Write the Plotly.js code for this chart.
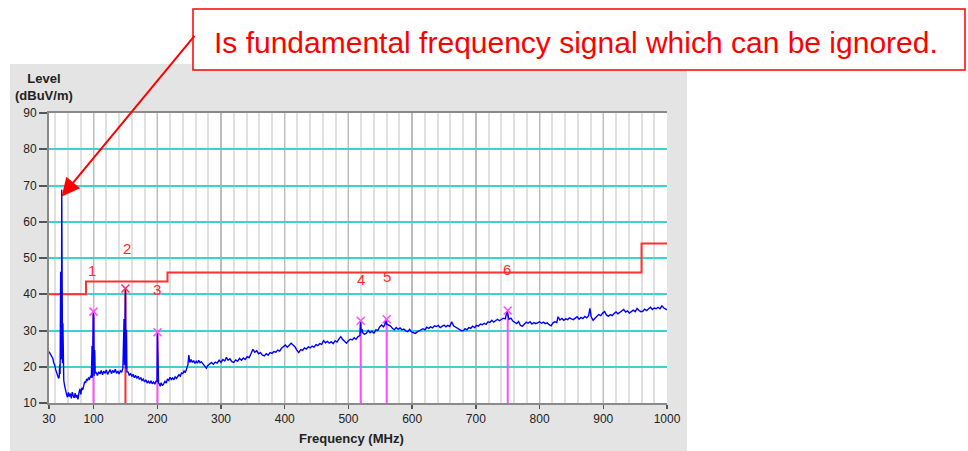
<!DOCTYPE html>
<html><head><meta charset="utf-8">
<script src="https://cdn.plot.ly/plotly-3.0.1.min.js"></script>
<style>html,body{margin:0;padding:0;background:#fff;}#chart{width:968px;height:451px;}</style>
</head><body><div id="chart"></div>
<script>
const spectrumFreq = [
 30,31.5,33,34.5,36,37.5,39,40.5,42,43.5,
 45,46,46.8,47.4,48.3,48.9,49.3,49.6,50,50.6,
 51.2,51.8,52.4,53.2,54.5,56,57.5,59,60.5,62,
 63.5,65,66.5,68,69.5,71,72.5,74,75.5,77,
 78.5,80,81.5,83,84.5,86,87.5,89,90.5,92,
 93.5,95,96.5,97.6,98.3,99.5,100.2,100.9,101.8,102.5,
 104,106,108,110,112,114,116,118,120,122,
 124,126,128,130,132,134,136,138,140,142,
 144,146,147.8,148.6,150,150.8,151.6,152.3,154,156,
 158,160,162,164,166,168,170,172,174,176,
 178,180,182,184,186,188,190,192,194,196,
 198,199.6,200.2,200.8,201.3,201.9,203,204.5,206,208,
 210,212,214,216,218,220,222,224,226,228,
 230,232,234,236,238,240,242,244,246,248,
 249.5,251,253,255,257,259,261,263,265,267,
 269,272,275,277,279,282,285,288,291,294,
 297,300,303,306,308.5,311,314,317,320,323,
 326,329,332,335,338,341,344,347,350,353,
 356,359,362,365,368,371,374,377,380,383,
 386,389,392,395,398,401,404,407,410,413,
 416,419,422,425,428,431,434,437,440,443,
 446,449,452,455,458,461,464,467,470,473,
 476,479,482,485,488,491,494,497,500,503,
 506,509,512,515,518,519,520,521,523,525,
 528,531,534,537,540,543,546,549,552,555,
 557,558.5,560,563,566,569,572,575,578,581,
 584,587,590,593,596,599,602,605,608,611,
 614,617,620,623,626,629,632,635,638,641,
 644,647,650,653,656,659,662,665,668,671,
 674,677,680,683,686,689,692,695,698,701,
 704,707,710,713,716,719,722,725,728,731,
 734,737,740,743,746,749,752,755,758,761,
 764,767,770,773,776,779,782,785,788,791,
 794,797,800,803,806,809,812,815,818,821,
 824,827,829,832,835,838,841,844,847,850,
 853,856,859,862,865,868,871,874,877,879,
 881,884,887,890,893,896,899,902,905,908,
 911,914,917,920,923,926,929,932,935,938,
 941,944,947,950,953,956,959,962,965,968,
 971,974,977,980,983,986,989,992,995,998,1000
];
const spectrumLevel = [
 24.2,23.8,23.4,22.8,22.3,21.0,20.5,19.2,18.4,17.2,
 16.8,17.2,20.6,18.0,46.2,24.0,31.0,22.0,68.8,25.0,
 21.0,32.0,20.0,16.2,14.8,13.2,12.4,11.6,12.9,11.8,
 12.6,11.3,13.0,12.0,11.4,12.7,11.5,12.2,11.0,12.8,
 13.9,12.4,14.2,13.6,14.8,15.9,15.6,16.6,16.3,16.9,
 16.6,17.3,17.0,25.8,17.0,35.2,33.5,17.5,24.6,18.2,
 18.4,17.6,18.6,18.0,19.0,17.8,18.8,18.2,19.1,17.9,
 18.7,19.2,18.1,19.0,18.4,19.3,18.2,18.8,18.0,18.9,
 18.5,19.6,33.2,20.5,41.6,19.5,30.2,18.6,18.6,17.6,
 18.2,17.3,17.9,17.0,17.6,16.8,17.4,16.5,17.0,16.2,
 16.6,15.8,16.4,15.6,16.0,15.4,16.1,15.3,15.8,15.2,
 16.0,16.0,29.4,16.2,22.5,15.5,15.3,14.6,15.6,14.8,
 15.3,16.0,15.5,16.6,16.2,17.1,16.5,16.9,16.4,17.2,
 16.8,17.4,17.8,17.4,18.3,18.1,18.8,18.4,19.4,20.5,
 23.2,21.2,22.0,21.2,21.7,20.9,21.5,21.0,21.8,21.1,
 21.4,20.8,20.2,19.6,20.3,20.8,21.2,20.7,21.3,21.0,
 21.8,21.2,22.0,21.6,22.6,21.8,22.2,21.4,21.2,21.9,
 21.5,22.3,21.8,22.4,22.0,22.8,22.5,23.6,24.8,24.0,
 24.4,23.6,23.9,23.2,23.0,23.6,23.2,23.9,23.7,24.2,
 24.0,24.6,24.3,25.1,25.6,26.0,25.4,26.1,26.5,26.0,
 25.5,24.6,23.9,24.7,24.5,25.2,24.9,25.5,25.2,25.7,
 25.4,26.1,25.8,26.4,26.2,27.2,26.6,27.0,26.5,26.9,
 26.4,27.2,26.8,27.6,28.3,27.5,26.9,26.5,27.2,27.6,
 27.4,28.0,27.6,28.3,28.6,32.3,29.5,30.4,29.2,29.0,
 29.2,30.0,29.4,29.8,29.3,30.2,30.0,31.0,31.5,31.0,
 31.6,32.9,31.8,31.5,31.2,30.6,30.2,30.8,30.3,30.7,
 30.2,30.4,29.9,29.7,30.3,29.6,29.4,29.2,29.6,29.9,
 30.3,30.5,30.2,30.9,30.6,31.0,30.7,31.3,31.1,31.4,
 30.8,31.2,31.5,31.0,31.4,31.1,32.4,31.3,31.0,30.6,
 30.2,30.0,29.9,30.5,30.2,30.8,30.6,31.2,30.8,31.4,
 31.2,31.8,31.6,32.0,31.7,32.4,32.2,32.8,32.3,32.6,
 33.1,32.7,33.0,33.4,33.2,35.2,33.1,33.4,32.6,32.2,
 31.9,32.5,31.4,31.2,31.8,32.3,32.0,32.4,31.8,32.2,
 31.9,32.1,32.4,32.0,32.3,31.9,32.1,31.6,31.3,32.1,
 32.4,32.2,33.8,32.9,33.3,32.8,33.2,33.0,33.5,33.2,
 33.0,33.4,33.8,33.1,33.6,33.3,33.9,33.5,34.1,36.1,
 33.8,32.8,33.5,33.9,34.4,34.1,34.8,35.2,34.3,33.9,
 34.4,34.1,34.7,35.1,34.6,35.0,35.4,35.8,35.1,35.4,
 34.8,35.3,35.6,35.2,36.1,35.5,35.2,35.3,35.9,35.5,
 36.0,36.4,35.8,36.2,36.0,36.4,36.0,36.8,36.2,35.8,35.7
];
// Limit line (step)
const limitFreq = [30, 88, 216, 960, 1000];
const limitLevel = [40, 43.5, 46, 54, 54];
// Peak markers
const markerFreq = [99.8, 150, 200.3, 519.2, 560, 750];
const markerLevel = [35.2, 41.6, 29.5, 32.7, 33.1, 35.5];
const markerNames = ['1', '2', '3', '4', '5', '6'];
const markerLabelFreq = [98.2, 152.1, 199.7, 519.2, 560.6, 749.6];
const markerLabelLevel = [46.6, 52.7, 41.4, 44.0, 44.8, 46.8];
// Axis ticks
const xTickVals = [30, 100, 200, 300, 400, 500, 600, 700, 800, 900, 1000];
const yTickVals = [10, 20, 30, 40, 50, 60, 70, 80, 90];
const calloutText = 'Is fundamental frequency signal which can be ignored.';
const fundamentalFreq = 50;
const fundamentalArrowLevel = 67;

const W = 968, H = 451, ML = 49, MR = 301, MT = 113, MB = 48;
const pw = W - ML - MR, ph = H - MT - MB;
const px = v => (v - ML) / pw;
const py = v => (H - MB - v) / ph;

const pink = '#ff4dff';
const redMark = '#ff2a2a';

// vertical marker lines
const pinkX = [], pinkY = [], redX = [], redY = [];
markerFreq.forEach((f, i) => {
  const tx = (i === 1) ? redX : pinkX;
  const ty = (i === 1) ? redY : pinkY;
  tx.push(f, f, null); ty.push(10, markerLevel[i], null);
});

const traces = [
  {x: pinkX, y: pinkY, mode: 'lines', line: {color: pink, width: 2}, hoverinfo: 'skip'},
  {x: redX, y: redY, mode: 'lines', line: {color: redMark, width: 2}, hoverinfo: 'skip'},
  {x: limitFreq, y: limitLevel, mode: 'lines', line: {color: '#ff3030', width: 2, shape: 'hv'}},
  {x: spectrumFreq, y: spectrumLevel, mode: 'lines', line: {color: '#0000ff', width: 1.4}},
  {x: markerFreq, y: markerLevel, mode: 'markers',
   marker: {symbol: 'x-thin', size: 8,
            line: {width: 1.5, color: markerFreq.map((f, i) => i === 1 ? '#f0306a' : pink)}}}
];

const annotations = markerNames.map((n, i) => ({
  x: markerLabelFreq[i], y: markerLabelLevel[i], xref: 'x', yref: 'y', text: n,
  showarrow: false, font: {family: 'Liberation Sans, Arial', size: 15, color: redMark}
}));
annotations.push({
  xref: 'paper', yref: 'paper', x: px(44), y: py(87), xanchor: 'center', yanchor: 'middle',
  text: '<b>Level</b><br><b>(dBuV/m)</b>', showarrow: false,
  font: {family: 'Liberation Sans, Arial', size: 13, color: '#222'}
});
annotations.push({
  xref: 'paper', yref: 'paper', x: px(351), y: py(438), xanchor: 'center', yanchor: 'middle',
  text: '<b>Frequency (MHz)</b>', showarrow: false,
  font: {family: 'Liberation Sans, Arial', size: 13, color: '#222'}
});
annotations.push({
  xref: 'paper', yref: 'paper', x: px(575.5), y: py(42), xanchor: 'center', yanchor: 'middle',
  text: calloutText, showarrow: false,
  font: {family: 'Liberation Sans, Arial', size: 30, color: '#ff0000'}
});
annotations.push({
  xref: 'x', yref: 'y', x: fundamentalFreq, y: fundamentalArrowLevel, text: '',
  showarrow: true, arrowhead: 2, arrowsize: 1.8, arrowwidth: 2, arrowcolor: '#ff0000',
  ax: 134, ay: -162
});

const layout = {
  width: W, height: H, margin: {l: ML, r: MR, t: MT, b: MB, pad: 0},
  paper_bgcolor: '#ffffff', plot_bgcolor: 'rgba(0,0,0,0)', showlegend: false,
  font: {family: 'Liberation Sans, Arial', size: 12, color: '#222'},
  xaxis: {
    range: [30, 1000], tickmode: 'array', tickvals: xTickVals, ticktext: xTickVals.map(String),
    showgrid: true, gridcolor: '#bcbcbc', gridwidth: 1.5,
    ticks: 'outside', ticklen: 4, tickwidth: 1.5, tickcolor: '#555',
    showline: true, linecolor: '#8a8a8a', linewidth: 2, mirror: true, zeroline: false,
    tickfont: {size: 12, color: '#222'},
    minor: {tickmode: 'linear', tick0: 0, dtick: 20, showgrid: true, gridcolor: '#e0e0e0', gridwidth: 2, ticklen: 0}
  },
  yaxis: {
    range: [10, 90], tickmode: 'array', tickvals: yTickVals, ticktext: yTickVals.map(String),
    showgrid: true, gridcolor: '#3fd0d0', gridwidth: 2,
    ticks: 'outside', ticklen: 8, tickwidth: 2, tickcolor: '#555',
    showline: true, linecolor: '#8a8a8a', linewidth: 2, zeroline: false,
    tickfont: {size: 12, color: '#222'}
  },
  shapes: [
    {type: 'rect', xref: 'paper', yref: 'paper', layer: 'below',
     x0: px(10), x1: px(687), y0: py(451), y1: py(64), fillcolor: '#e4e4e4', line: {width: 0}},
    {type: 'rect', xref: 'paper', yref: 'paper', layer: 'below',
     x0: 0, x1: 1, y0: 0, y1: 1, fillcolor: '#ffffff', line: {width: 0}},
    {type: 'rect', xref: 'paper', yref: 'paper', layer: 'above',
     x0: px(193), x1: px(965), y0: py(70), y1: py(9), fillcolor: '#ffffff', line: {color: '#ff0000', width: 1.5}}
  ],
  annotations: annotations
};

Plotly.newPlot('chart', traces, layout, {displayModeBar: false, staticPlot: true});
</script>
</body></html>
